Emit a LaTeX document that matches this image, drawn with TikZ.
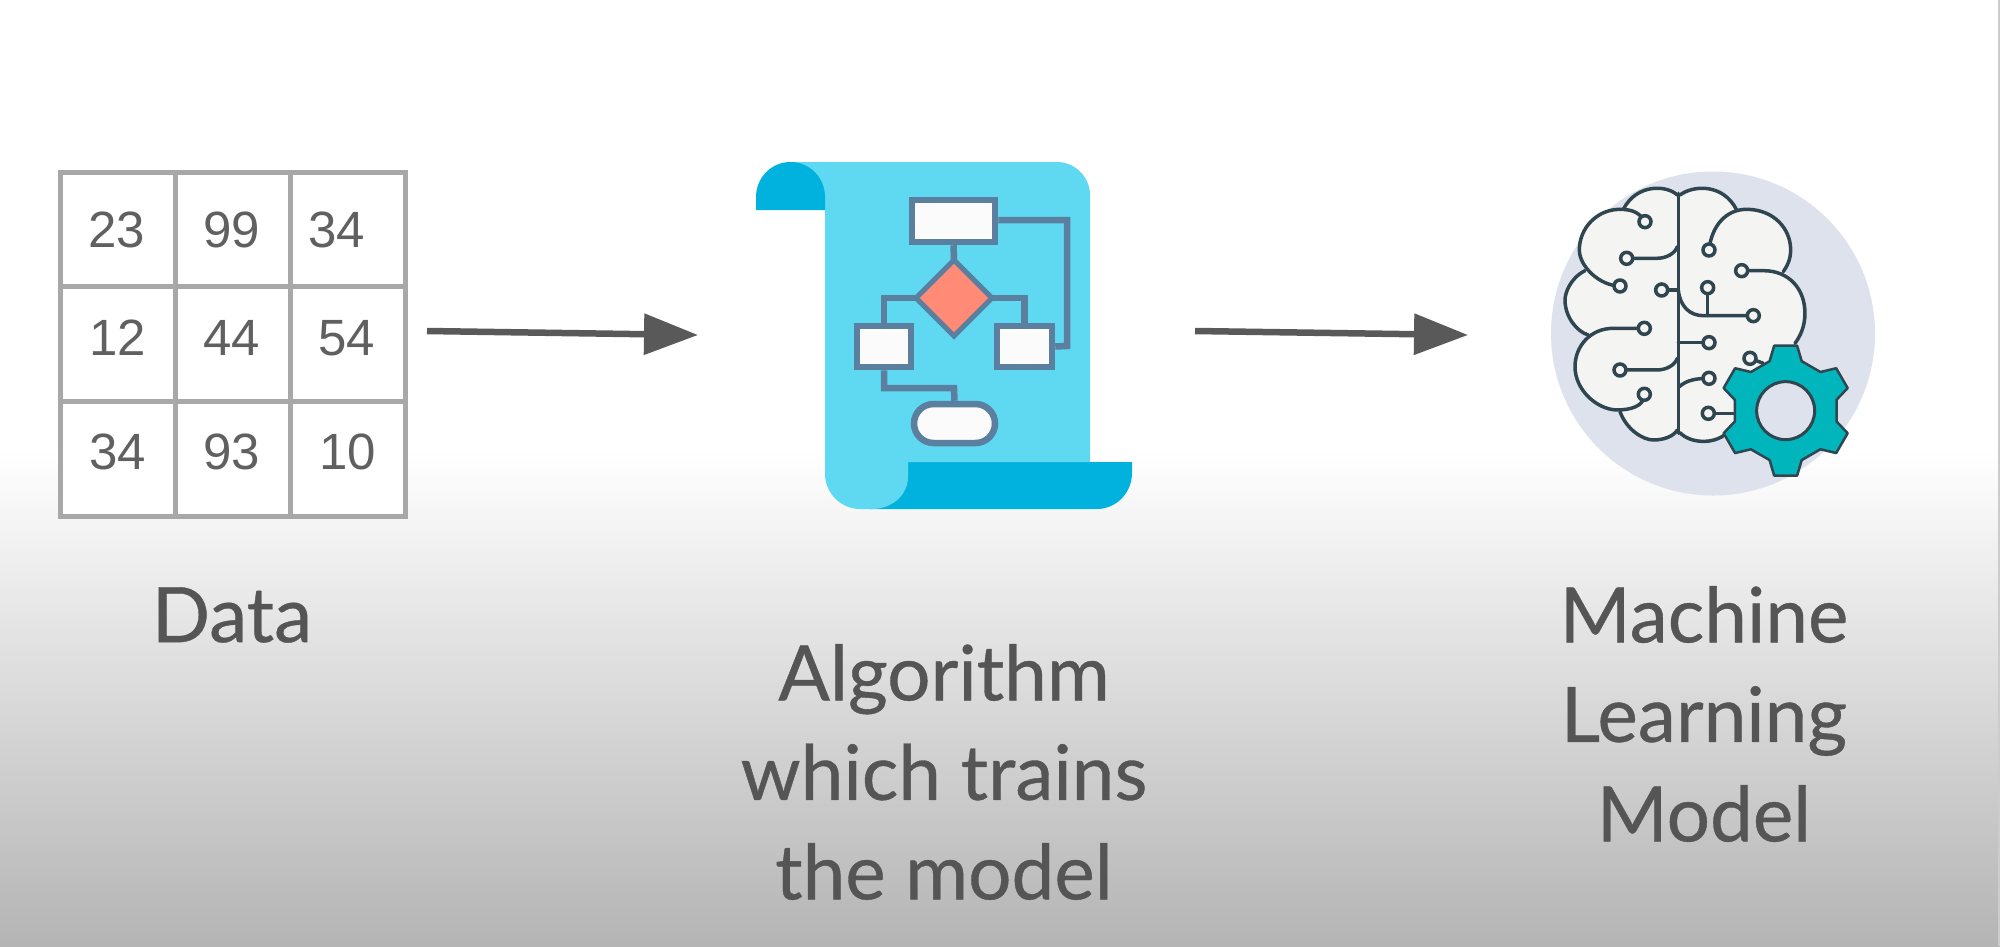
\documentclass[tikz,border=0pt]{standalone}
\usepackage{fontspec}
\setmainfont{Lato}
\newfontfamily\capfont[FakeBold=0.5]{Lato}
\newfontfamily\numfont{Liberation Sans}
\usetikzlibrary{arrows.meta}
\definecolor{gridgrey}{HTML}{A8A8A8}
\definecolor{numgrey}{HTML}{606060}
\definecolor{txtgrey}{HTML}{555555}
\definecolor{arrowgrey}{HTML}{595959}
\definecolor{scrolllight}{HTML}{5FD8F2}
\definecolor{scrolldark}{HTML}{00B2DD}
\definecolor{flowline}{HTML}{5B7F9E}
\definecolor{flowfill}{HTML}{FBFBFB}
\definecolor{salmon}{HTML}{FF8A75}
\definecolor{discgrey}{HTML}{DDE2EC}
\definecolor{brainfill}{HTML}{F4F4F2}
\definecolor{brainline}{HTML}{2F4650}
\definecolor{gearteal}{HTML}{00B5BC}
\definecolor{bgend}{HTML}{B4B4B4}
\tikzset{
  x=1pt,y=-1pt,
  num/.style={font=\numfont\fontsize{51}{51}\selectfont,text=numgrey,inner sep=0pt},
  caption/.style={font=\capfont\fontsize{76.5}{99.5}\selectfont,text=txtgrey,align=center,inner sep=0pt},
  flowbox/.style={draw=flowline,line width=6.5pt,fill=flowfill,inner sep=0pt},
  flowlink/.style={draw=flowline,line width=6.5pt},
  flowarrow/.style={draw=arrowgrey,line width=6.5pt,-{Triangle[length=54pt,width=40pt]}},
  bline/.style={draw=brainline,line width=3.5pt,line cap=round},
  bdot/.style={circle,draw=brainline,line width=3.5pt,fill=brainfill,minimum size=12pt,inner sep=0pt},
}
\begin{document}
\begin{tikzpicture}
\useasboundingbox (0,0) rectangle (2000,946);
% background
\fill[white] (0,0) rectangle (2000,450);
\shade[top color=white,bottom color=bgend] (0,450) rectangle (2000,946);
\fill[black!20] (1998,0) rectangle (2000,946);
% data grid
\draw[draw=gridgrey,line width=5pt,fill=white] (60,172) rectangle (405,516);
\draw[draw=gridgrey,line width=5pt] (175,172) -- (175,516) (290,172) -- (290,516) (60,286) -- (405,286) (60,401) -- (405,401);
\node[num] (n11) at (117,230) {23};
\node[num] (n12) at (232,230) {99};
\node[num] (n13) at (337,230) {34};
\node[num] (n21) at (118,338) {12};
\node[num] (n22) at (232,338) {44};
\node[num] (n23) at (347,338) {54};
\node[num] (n31) at (118,452) {34};
\node[num] (n32) at (232,452) {93};
\node[num] (n33) at (348,452) {10};
% arrows
\coordinate (a1s) at (427,331);
\coordinate (a1e) at (698,335);
\coordinate (a2s) at (1195,331);
\coordinate (a2e) at (1468,335);
\draw[flowarrow] (a1s) -- (a1e);
\draw[flowarrow] (a2s) -- (a2e);
% scroll
\fill[scrolldark] (870,509) -- (1097,509) .. controls (1116,509) and (1132,493) .. (1132,473) -- (1132,462) -- (900,462) -- cycle;
\fill[scrolllight] (825,197) -- (790,162) -- (1057,162)
  .. controls (1075,162) and (1090,177) .. (1090,195) -- (1090,462) -- (908,462) -- (908,477)
  .. controls (908,495) and (892,509) .. (872,509) -- (860,509)
  .. controls (841,509) and (825,493) .. (825,474) -- cycle;
\fill[scrolldark] (756,210) -- (756,197) .. controls (756,178) and (771,162) .. (790.5,162)
  .. controls (810,162) and (825,178) .. (825,197) -- (825,210) -- cycle;
% flowchart
\node[flowbox,minimum width=83pt,minimum height=42pt] (ftop) at (953.5,221) {};
\node[flowbox,minimum width=54pt,minimum height=41pt] (fleft) at (884,346.5) {};
\node[flowbox,minimum width=55pt,minimum height=41pt] (fright) at (1024.5,346.5) {};
\node[flowbox,rounded corners=19.5pt,minimum width=81pt,minimum height=39pt] (foval) at (954.5,423.5) {};
\coordinate (dT) at (954,260);
\coordinate (dL) at (916,298);
\coordinate (dR) at (992,298);
\coordinate (dB) at (954,336);
\draw[flowlink] (ftop.south) -- (dT);
\draw[flowlink] (dL) -| (fleft.north);
\draw[flowlink] (dR) -| (fright.north);
\draw[flowlink] (ftop.east |- 0,220) -- (1067,220) -- (1067,346) -- (fright.east);
\draw[flowlink] (fleft.south) |- (954,388) -- (foval.north);
\draw[draw=flowline,line width=5pt,fill=salmon,line join=miter] (dT) -- (dR) -- (dB) -- (dL) -- cycle;
% brain
\fill[discgrey] (1713,333.5) circle[radius=162];
\begin{scope}[shift={(1520,150)},x=0.3333pt,y=-0.3333pt]
\fill[brainfill] (475,130)
  .. controls (440,105) and (350,100) .. (310,178)
  .. controls (230,165) and (175,235) .. (178,300)
  .. controls (178,320) and (185,345) .. (195,362)
  .. controls (150,385) and (135,430) .. (135,450)
  .. controls (135,500) and (170,545) .. (205,555)
  .. controls (175,590) and (165,620) .. (165,650)
  .. controls (165,720) and (230,780) .. (300,785)
  .. controls (320,840) and (370,870) .. (400,870)
  .. controls (430,870) and (460,860) .. (475,845)
  .. controls (500,875) and (580,885) .. (640,840)
  -- (825,580)
  .. controls (860,530) and (860,400) .. (790,365)
  .. controls (830,300) and (810,180) .. (680,178)
  -- (650,180)
  .. controls (610,100) and (520,105) .. (475,130) -- cycle;
\draw[bline] (475,130) -- (475,850);
% left outlines
\draw[bline] (472,135) .. controls (440,105) and (350,100) .. (310,178);
\draw[bline] (375,215) .. controls (360,190) and (340,178) .. (300,178)
  .. controls (230,178) and (178,235) .. (178,300)
  .. controls (178,350) and (240,408) .. (300,408);
\draw[bline] (195,362) .. controls (150,385) and (135,430) .. (135,450)
  .. controls (135,500) and (170,545) .. (205,555);
\draw[bline] (373,535) -- (280,535) .. controls (210,535) and (165,590) .. (165,650)
  .. controls (165,720) and (230,778) .. (290,780)
  .. controls (330,780) and (373,770) .. (373,733);
\draw[bline] (300,785) .. controls (320,840) and (370,870) .. (400,870)
  .. controls (430,870) and (460,860) .. (472,840);
\draw[bline] (320,325) -- (410,325) .. controls (440,325) and (465,310) .. (472,290);
\draw[bline] (425,420) -- (475,420);
\draw[bline] (300,660) -- (410,660) .. controls (440,660) and (465,645) .. (472,625);
% right outlines
\draw[bline] (480,135) .. controls (520,105) and (610,100) .. (650,180);
\draw[bline] (567,300) .. controls (575,225) and (620,178) .. (680,178)
  .. controls (760,178) and (812,235) .. (812,300)
  .. controls (812,330) and (800,350) .. (790,365);
\draw[bline] (665,362) -- (730,362) .. controls (810,362) and (855,420) .. (855,490)
  .. controls (855,530) and (840,560) .. (825,580);
\draw[bline] (475,420) .. controls (480,470) and (510,497) .. (550,497) -- (700,497);
\draw[bline] (563,413) -- (563,497);
\draw[bline] (475,578) -- (567,578);
\draw[bline] (478,710) .. controls (500,690) and (530,685) .. (567,685);
\draw[bline] (480,848) .. controls (510,880) and (580,885) .. (620,850);
\draw[bline] (565,790) -- (640,790);
\draw[bline] (690,625) -- (730,640);
\foreach \n/\p in {a/{375,215},b/{320,325},c/{300,408},d/{425,420},e/{373,535},f/{300,660},g/{373,733},h/{567,300},i/{665,362},j/{563,413},k/{700,497},l/{567,578},m/{690,625},o/{567,685},q/{565,790}}
  \node[bdot] (dot\n) at (\p) {};
% gear
\begin{scope}[shift={(797,782)}]
\draw[draw=brainline,line width=2.5pt,fill=gearteal,line join=round] (100:198)
  \foreach \a in {90,30,-30,-90,-150,-210} { -- (\a-10:198) -- (\a-18:156) -- (\a-42:156) -- (\a-50:198) } -- cycle;
\draw[draw=brainline,line width=3pt,fill=discgrey] (0,0) circle[radius=87];
\end{scope}
\end{scope}
% captions
\node[caption] (lbl1) at (232,615) {Data};
\node[caption] (lbl2) at (944,772) {Algorithm\\which trains\\the model};
\node[caption] (lbl3) at (1704,714) {Machine\\Learning\\Model};
\end{tikzpicture}
\end{document}
